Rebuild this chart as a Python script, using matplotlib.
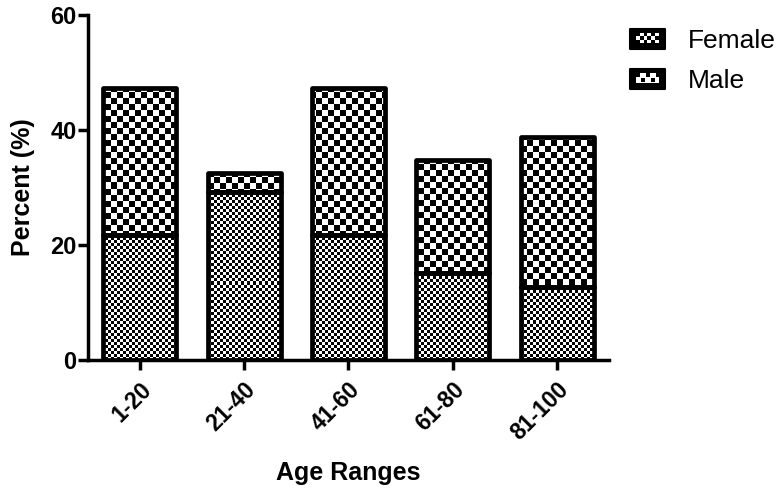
import numpy as np
import matplotlib
matplotlib.use("Agg")
import matplotlib.pyplot as plt
from matplotlib.patches import Rectangle, Patch
from matplotlib.legend_handler import HandlerBase
from matplotlib.image import BboxImage
from matplotlib.transforms import Bbox, TransformedBbox

categories = ["1-20", "21-40", "41-60", "61-80", "81-100"]
female = [21.7, 29.2, 21.7, 15.1, 12.7]
male_total = [47.3, 32.5, 47.3, 34.8, 38.8]
male = [t - f for t, f in zip(male_total, female)]
y_ticks = [0, 20, 40, 60]

plt.rcParams['font.family'] = ['Liberation Sans', 'DejaVu Sans']


def checker(h, w, cell, black):
    i = np.arange(h)[:, None]
    j = np.arange(w)[None, :]
    on = (((i // cell) + (j // cell)) % 2 == 0) & ((i % cell) < black) & ((j % cell) < black)
    return np.where(on, 0.0, 1.0)


fig = plt.figure(figsize=(7.84, 4.96), dpi=100)
ax = fig.add_axes([0.112, 0.274, 0.665, 0.696])
ax.set_xlim(-0.5, 4.5)
ax.set_ylim(0, 60)

AW, AH = 521, 345
tex_f = checker(AH, AW, 3, 3)
tex_m = checker(AH, AW, 6, 6)

x = np.arange(len(categories))
bars_f = ax.bar(x, female, width=0.7, facecolor='none', edgecolor='black', linewidth=3.4,
                joinstyle='round', zorder=3)
bars_m = ax.bar(x, male, bottom=female, width=0.7, facecolor='none', edgecolor='black', linewidth=3.4,
                joinstyle='round', zorder=3)

for bars, tex in ((bars_f, tex_f), (bars_m, tex_m)):
    for b in bars:
        im = ax.imshow(tex, cmap='gray', vmin=0, vmax=1, extent=(-0.5, 4.5, 0, 60),
                       aspect='auto', interpolation='nearest', origin='upper', zorder=2)
        im.set_clip_path(b)

ax.set_xlim(-0.5, 4.5)
ax.set_ylim(0, 60)

for s in ('top', 'right'):
    ax.spines[s].set_visible(False)
for s in ('left', 'bottom'):
    ax.spines[s].set_linewidth(2.5)

ax.set_yticks(y_ticks)
ax.set_xticks(x)
ax.set_xticklabels(categories, rotation=45, ha='right', va='top', rotation_mode='anchor',
                   fontsize=16.5, fontweight='bold')
ax.tick_params(axis='both', length=7, width=2.5, direction='out')
ax.tick_params(axis='y', labelsize=17, pad=1)
ax.tick_params(axis='x', pad=6)
for lab in ax.get_yticklabels():
    lab.set_fontweight('bold')

ax.set_ylabel("Percent (%)", fontsize=18, fontweight='bold', labelpad=11)
ax.set_xlabel("Age Ranges", fontsize=18, fontweight='bold', labelpad=12)


class TexHandler(HandlerBase):
    def __init__(self, tex):
        super().__init__()
        self.tex = tex

    def create_artists(self, legend, orig_handle, xdescent, ydescent, width, height, fontsize, trans):
        r = Rectangle((-xdescent, -ydescent), width, height, facecolor='black',
                      edgecolor='black', linewidth=1.5, joinstyle='round', transform=trans)
        bb = Bbox.from_bounds(-xdescent + 4.5, -ydescent + 4, width - 9, height - 8)
        bi = BboxImage(TransformedBbox(bb, trans), cmap='gray', norm=None,
                       interpolation='nearest')
        bi.set_data(self.tex)
        bi.set_clim(0, 1)
        return [r, bi]


hf = Patch(label='Female')
hm = Patch(label='Male')
fig.legend(handles=[hf, hm], labels=['Female', 'Male'],
           handler_map={hf: TexHandler(checker(6, 12, 2, 2)), hm: TexHandler(checker(8, 18, 4, 3))},
           loc='upper left', bbox_to_anchor=(0.803, 0.942), frameon=False, fontsize=19,
           borderpad=0, borderaxespad=0, handlelength=1.33, handleheight=0.8,
           handletextpad=0.87, labelspacing=0.6)

fig.savefig("out.png", dpi=100)
